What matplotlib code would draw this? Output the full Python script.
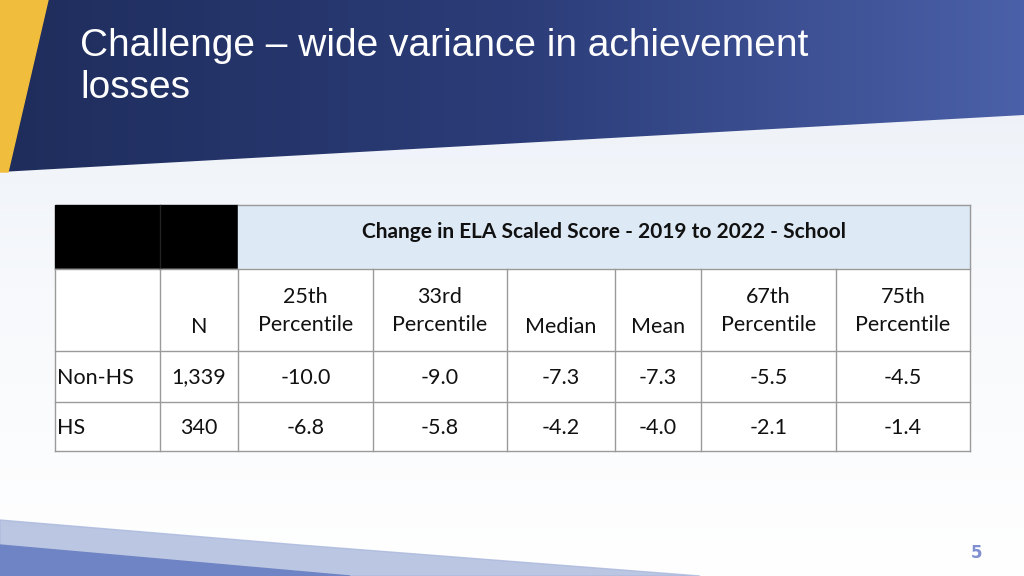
import matplotlib
matplotlib.use("Agg")
import matplotlib.pyplot as plt
import numpy as np
from matplotlib.patches import Polygon, Rectangle
from matplotlib.colors import LinearSegmentedColormap

title = "Challenge – wide variance in achievement\nlosses"
header_top = "Change in ELA Scaled Score - 2019 to 2022 - School"
col_headers = ["", "N", "25th\nPercentile", "33rd\nPercentile", "Median", "Mean", "67th\nPercentile", "75th\nPercentile"]
row_labels = ["Non-HS", "HS"]
n_values = ["1,339", "340"]
values = [[-10.0, -9.0, -7.3, -7.3, -5.5, -4.5],
          [-6.8, -5.8, -4.2, -4.0, -2.1, -1.4]]

fig = plt.figure(figsize=(10.24, 5.76), dpi=100)
ax = fig.add_axes([0, 0, 1, 1])
ax.set_xlim(0, 1024); ax.set_ylim(576, 0); ax.axis("off")

grad = np.linspace(0, 1, 256).reshape(-1, 1)
cm = LinearSegmentedColormap.from_list("bg", ["#e9eef6", "#f7f9fc", "#ffffff"])
ax.imshow(grad, extent=[0, 1024, 576, 0], cmap=cm, aspect="auto", zorder=0)
ax.add_patch(Polygon([(0, 576), (0, 520), (300, 545), (700, 576)], closed=True, color="#aab8dc", zorder=1, alpha=0.8))
ax.add_patch(Polygon([(0, 576), (0, 545), (350, 576)], closed=True, color="#6f84c4", zorder=1))
topg = np.linspace(0, 1, 256).reshape(1, -1)
cm2 = LinearSegmentedColormap.from_list("top", ["#1f2d5c", "#2b3c78", "#4a60a8"])
im = ax.imshow(topg, extent=[0, 1024, 180, 0], cmap=cm2, aspect="auto", zorder=1)
im.set_clip_path(Polygon([(0, 0), (1024, 0), (1024, 115), (0, 172)], closed=True, transform=ax.transData))
ax.add_patch(Polygon([(0, 0), (48, 0), (8, 172), (0, 172)], closed=True, color="#f0be3c", zorder=2))

ax.text(80, 28, title, fontsize=28, color="white", family="Liberation Sans", va="top", ha="left",
        linespacing=1.2, zorder=3)

xs = [55, 160, 238, 373, 507, 615, 701, 836, 970]
ys = [205, 269, 351, 402, 451]
ax.add_patch(Rectangle((55, 205), 238 - 55, 64, color="black", zorder=3))
ax.add_patch(Rectangle((238, 205), 970 - 238, 64, color="#dde9f5", zorder=3))
ax.add_patch(Rectangle((55, 269), 915, 182, color="white", zorder=3))
lc = "#9a9a9a"
for y in ys[1:]:
    ax.plot([55, 970], [y, y], color=lc, lw=1, zorder=4)
ax.plot([238, 970], [205, 205], color=lc, lw=1, zorder=4)
ax.plot([970, 970], [205, 451], color=lc, lw=1, zorder=4)
ax.plot([55, 55], [269, 451], color=lc, lw=1, zorder=4)
ax.plot([160, 160], [205, 269], color="#222222", lw=1, zorder=4)
for x in xs[1:-1]:
    ax.plot([x, x], [269, 451], color=lc, lw=1, zorder=4)

f = dict(family="Lato", fontsize=15.5, color="#111111", zorder=5)
ax.text((238 + 970) / 2, 232, header_top, ha="center", va="center", fontweight="bold",
        **{**f, "fontsize": 15})
for i, h in enumerate(col_headers):
    cx = (xs[i] + xs[i + 1]) / 2
    cy = 311 if "\n" in h else 327
    ax.text(cx, cy, h, ha="center", va="center", linespacing=1.45, **f)
for r in range(2):
    cy = (ys[2 + r] + ys[3 + r]) / 2 + 1
    ax.text(57, cy, row_labels[r], ha="left", va="center", **f)
    ax.text((xs[1] + xs[2]) / 2, cy, n_values[r], ha="center", va="center", **f)
    for j, v in enumerate(values[r]):
        ax.text((xs[2 + j] + xs[3 + j]) / 2, cy, f"{v:.1f}", ha="center", va="center", **f)

ax.text(977, 553, "5", ha="center", va="center", fontsize=12, color="#7f8fd0", fontweight="bold", zorder=5)
fig.savefig("out.png", dpi=100)
